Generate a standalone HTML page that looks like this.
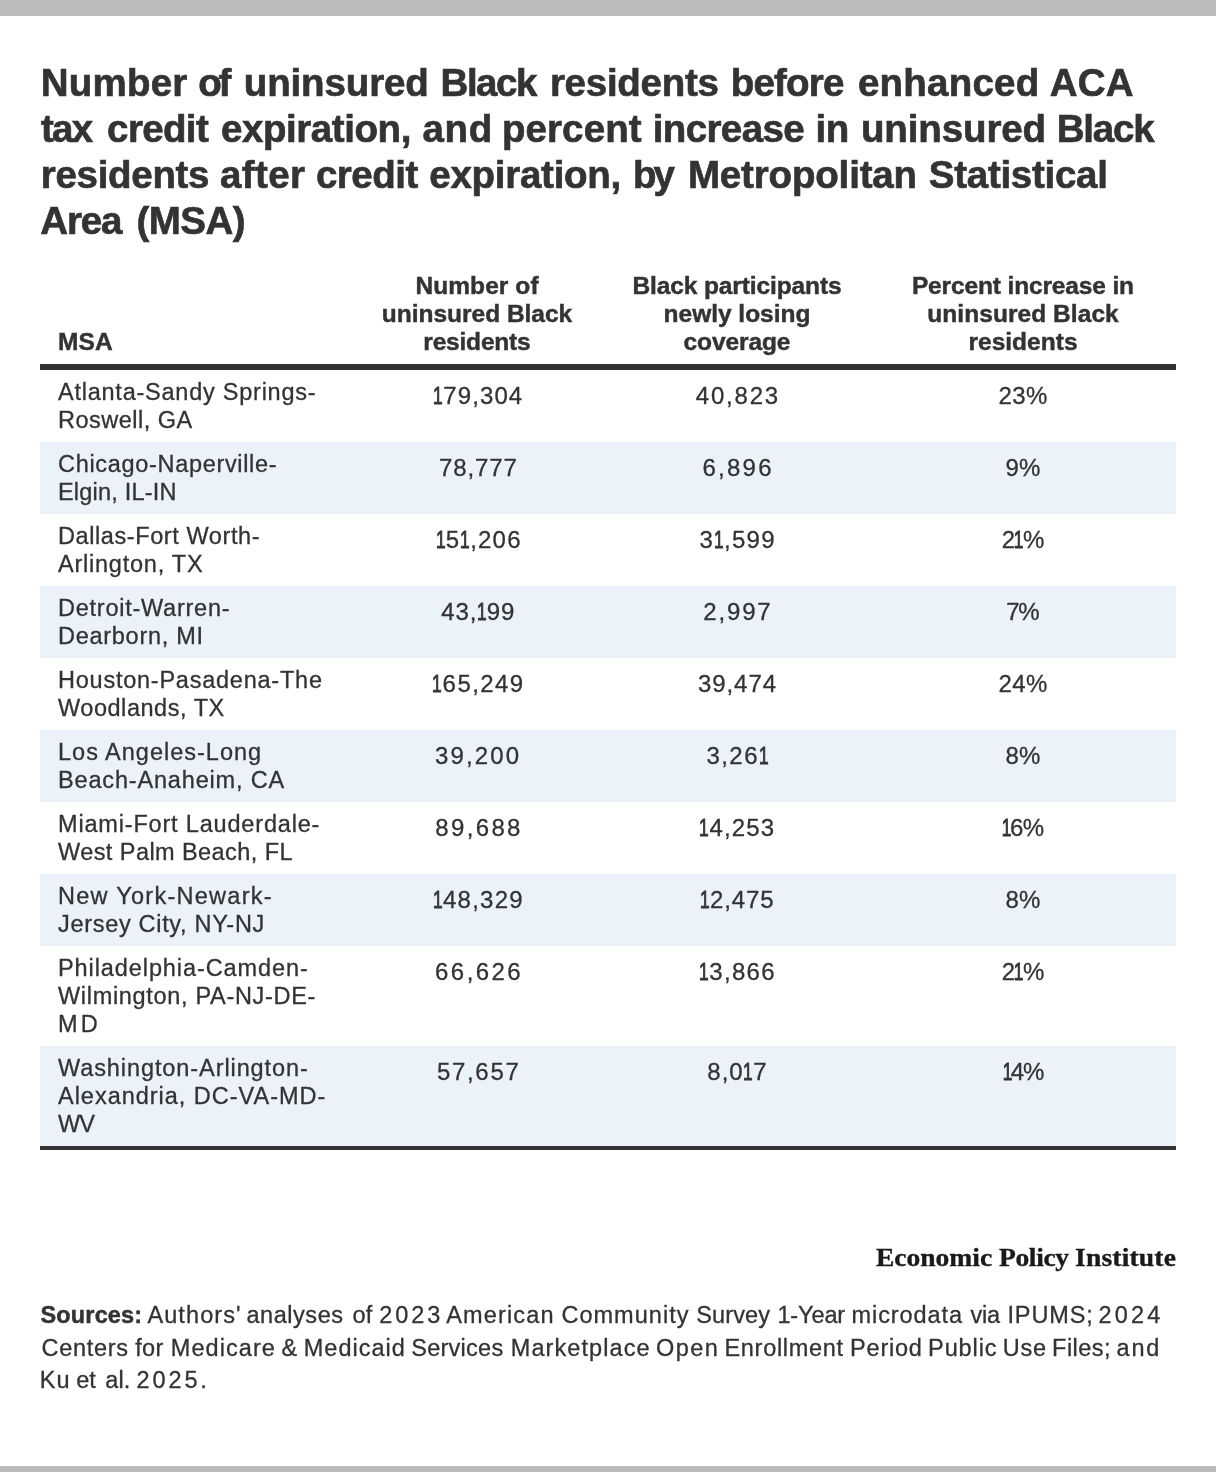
<!DOCTYPE html>
<html lang="en">
<head>
<meta charset="utf-8">
<title>Number of uninsured Black residents before enhanced ACA tax credit expiration</title>
<style>
html,body{margin:0;padding:0;background:#fff;}
body{width:1216px;height:1472px;position:relative;overflow:hidden;font-family:"Liberation Sans",sans-serif;color:#333;}
.bar{position:absolute;left:0;width:1216px;background:#bbb;}
.bar.top{top:0;height:16px;}
.bar.bottom{top:1466px;height:6px;}
.wrap{position:absolute;left:40px;top:0;width:1136px;will-change:transform;}
.l{white-space:nowrap;}
.title{position:absolute;left:0;top:60px;width:1136px;margin:0;font-size:38.5px;line-height:46px;font-weight:bold;color:#333;-webkit-text-stroke:0.65px #333;white-space:nowrap;}
table.data{position:absolute;left:0;top:264px;width:1136px;border-collapse:separate;border-spacing:0;table-layout:fixed;border-bottom:4px solid #333;}
col.c1{width:310px}col.c2{width:254px}col.c3{width:266px}col.c4{width:306px}
thead th{font-size:24.5px;line-height:28px;font-weight:bold;-webkit-text-stroke:0.45px #333;text-align:center;vertical-align:bottom;padding:8px 0 8px 0;border-bottom:6px solid #333;height:84px;white-space:nowrap;}
thead th.h1{text-align:left;padding-left:18px;}
tbody tr{height:72px;}
tbody tr.tall{height:100px;}
tbody tr.alt{background:#ebf2fa;}
tbody th{-webkit-text-stroke:0.3px #333;font-size:23.5px;line-height:28px;font-weight:normal;text-align:left;vertical-align:top;padding:8px 0 0 18px;white-space:nowrap;}
tbody td{-webkit-text-stroke:0.3px #333;font-size:24px;line-height:28px;text-align:center;vertical-align:top;padding:12px 0 0 0;white-space:nowrap;}
.logo{position:absolute;left:0;width:1136px;height:30px;top:1243px;font-family:"Liberation Serif",serif;font-weight:bold;font-size:26px;-webkit-text-stroke:0.35px #1a1a1a;line-height:30px;color:#1a1a1a;white-space:nowrap;}
.source{-webkit-text-stroke:0.3px #333;position:absolute;left:0;top:1299.4px;width:1136px;margin:0;font-size:23.5px;line-height:32.4px;white-space:nowrap;}
i.o,i.o1{font-style:normal;display:inline-block;transform:scaleX(.72);margin:0 -2.4px;-webkit-text-stroke:1px #333;}
.wl{display:block;position:relative;}
.wl .w{position:absolute;top:0;left:0;}
.tl{height:46px;}
.logo .wl{height:30px;}
.sl{height:32.4px;}
.logo .wl .w{transform:scaleX(1.06);transform-origin:0 50%;}
.source strong{-webkit-text-stroke:0.45px #333;}
</style>
</head>
<body>
<div class="bar top"></div>
<div class="wrap">
<h1 class="title"><span class="wl tl"><span id="s0" class="l w" style="left:0.75px;letter-spacing:0.21px;margin-right:-0.21px">Number</span> <span id="s1" class="l w" style="left:158.28px;letter-spacing:-3.4px;margin-right:3.4px">of</span> <span id="s2" class="l w" style="left:203.75px;letter-spacing:-0.12px;margin-right:0.12px">uninsured</span> <span id="s3" class="l w" style="left:400.58px;letter-spacing:-1.5px;margin-right:1.5px">Black</span> <span id="s4" class="l w" style="left:509.92px;letter-spacing:-0.27px;margin-right:0.27px">residents</span> <span id="s5" class="l w" style="left:690.75px;letter-spacing:-0.82px;margin-right:0.82px">before</span> <span id="s6" class="l w" style="left:817.94px;letter-spacing:0.22px;margin-right:-0.22px">enhanced</span> <span id="s7" class="l w" style="left:1009.79px;letter-spacing:0.19px;margin-right:-0.19px">ACA</span></span>
<span class="wl tl"><span id="s8" class="l w" style="left:0.9px;letter-spacing:-1.67px;margin-right:1.67px">tax</span> <span id="s9" class="l w" style="left:67.11px;letter-spacing:-0.64px;margin-right:0.64px">credit</span> <span id="s10" class="l w" style="left:180.96px;letter-spacing:-0.43px;margin-right:0.43px">expiration,</span> <span id="s11" class="l w" style="left:382.4px;letter-spacing:0.76px;margin-right:-0.76px">and</span> <span id="s12" class="l w" style="left:461.92px;letter-spacing:0.1px;margin-right:-0.1px">percent</span> <span id="s13" class="l w" style="left:612.66px;letter-spacing:-0.61px;margin-right:0.61px">increase</span> <span id="s14" class="l w" style="left:775.42px;letter-spacing:-0.32px;margin-right:0.32px">in</span> <span id="s15" class="l w" style="left:820.94px;letter-spacing:-0.12px;margin-right:0.12px">uninsured</span> <span id="s16" class="l w" style="left:1016.66px;letter-spacing:-1.18px;margin-right:1.18px">Black</span></span>
<span class="wl tl"><span id="s17" class="l w" style="left:0.75px;letter-spacing:-0.3px;margin-right:0.3px">residents</span> <span id="s18" class="l w" style="left:179.96px;letter-spacing:0.42px;margin-right:-0.42px">after</span> <span id="s19" class="l w" style="left:275.96px;letter-spacing:-0.51px;margin-right:0.51px">credit</span> <span id="s20" class="l w" style="left:389.28px;letter-spacing:-0.27px;margin-right:0.27px">expiration,</span> <span id="s21" class="l w" style="left:593.09px;letter-spacing:-3.15px;margin-right:3.15px">by</span> <span id="s22" class="l w" style="left:647.92px;letter-spacing:-0.16px;margin-right:0.16px">Metropolitan</span> <span id="s23" class="l w" style="left:888.79px;letter-spacing:-0.27px;margin-right:0.27px">Statistical</span></span>
<span class="wl tl"><span id="s24" class="l w" style="left:0.3px;letter-spacing:-1.18px;margin-right:1.18px">Area</span> <span id="s25" class="l w" style="left:96.62px;letter-spacing:-0.58px;margin-right:0.58px">(MSA)</span></span></h1>
<table class="data">
<colgroup><col class="c1"><col class="c2"><col class="c3"><col class="c4"></colgroup>
<thead>
<tr>
<th scope="col" class="h1"><span id="s26" class="l" style="letter-spacing:0.08px;margin-right:-0.08px">MSA</span></th>
<th scope="col" class="h2"><span id="s27" class="l" style="letter-spacing:0.08px;margin-right:-0.08px">Number of</span><br><span id="s28" class="l" style="letter-spacing:-0.01px;margin-right:0.01px">uninsured Black</span><br><span id="s29" class="l" style="letter-spacing:-0.19px;margin-right:0.19px">residents</span></th>
<th scope="col" class="h3"><span id="s30" class="l" style="letter-spacing:-0.11px;margin-right:0.11px">Black participants</span><br><span id="s31" class="l" style="letter-spacing:-0.02px;margin-right:0.02px">newly losing</span><br><span id="s32" class="l" style="letter-spacing:-0.09px;margin-right:0.09px">coverage</span></th>
<th scope="col" class="h4"><span id="s33" class="l" style="letter-spacing:-0.14px;margin-right:0.14px">Percent increase in</span><br><span id="s34" class="l" style="letter-spacing:0.06px;margin-right:-0.06px">uninsured Black</span><br><span id="s35" class="l" style="letter-spacing:0.02px;margin-right:-0.02px">residents</span></th>
</tr>
</thead>
<tbody>
<tr class="">
<th scope="row"><span id="s36" class="l" style="letter-spacing:0.76px;margin-right:-0.76px">Atlanta-Sandy Springs-</span><br><span id="s37" class="l" style="letter-spacing:0.49px;margin-right:-0.49px">Roswell, GA</span></th>
<td><span id="s38" class="l" style="position:relative;left:0.88px;letter-spacing:1.11px;margin-right:-1.11px"><i class="o1">1</i>79,304</span></td>
<td><span id="s39" class="l" style="letter-spacing:1.79px;margin-right:-1.79px">40,823</span></td>
<td><span id="s40" class="l" style="letter-spacing:0.45px;margin-right:-0.45px">23%</span></td>
</tr>
<tr class="alt">
<th scope="row"><span id="s41" class="l" style="letter-spacing:0.68px;margin-right:-0.68px">Chicago-Naperville-</span><br><span id="s42" class="l" style="letter-spacing:0.2px;margin-right:-0.2px">Elgin, IL-IN</span></th>
<td><span id="s43" class="l" style="position:relative;left:0.88px;letter-spacing:0.89px;margin-right:-0.89px">78,777</span></td>
<td><span id="s44" class="l" style="letter-spacing:2.23px;margin-right:-2.23px">6,896</span></td>
<td><span id="s45" class="l" style="letter-spacing:0.21px;margin-right:-0.21px">9%</span></td>
</tr>
<tr class="">
<th scope="row"><span id="s46" class="l" style="letter-spacing:0.59px;margin-right:-0.59px">Dallas-Fort Worth-</span><br><span id="s47" class="l" style="letter-spacing:0.77px;margin-right:-0.77px">Arlington, TX</span></th>
<td><span id="s48" class="l" style="position:relative;left:1.28px;letter-spacing:1.21px;margin-right:-1.21px"><i class="o1">1</i>5<i class="o">1</i>,206</span></td>
<td><span id="s49" class="l" style="letter-spacing:1.29px;margin-right:-1.29px">3<i class="o">1</i>,599</span></td>
<td><span id="s50" class="l" style="letter-spacing:-0.3px;margin-right:0.3px">2<i class="o">1</i>%</span></td>
</tr>
<tr class="alt">
<th scope="row"><span id="s51" class="l" style="letter-spacing:0.75px;margin-right:-0.75px">Detroit-Warren-</span><br><span id="s52" class="l" style="letter-spacing:0.72px;margin-right:-0.72px">Dearborn, MI</span></th>
<td><span id="s53" class="l" style="position:relative;left:0.88px;letter-spacing:0.89px;margin-right:-0.89px">43,<i class="o">1</i>99</span></td>
<td><span id="s54" class="l" style="letter-spacing:1.82px;margin-right:-1.82px">2,997</span></td>
<td><span id="s55" class="l" style="letter-spacing:-1.28px;margin-right:1.28px">7%</span></td>
</tr>
<tr class="">
<th scope="row"><span id="s56" class="l" style="letter-spacing:0.76px;margin-right:-0.76px">Houston-Pasadena-The</span><br><span id="s57" class="l" style="letter-spacing:0.54px;margin-right:-0.54px">Woodlands, TX</span></th>
<td><span id="s58" class="l" style="position:relative;left:0.88px;letter-spacing:1.42px;margin-right:-1.42px"><i class="o1">1</i>65,249</span></td>
<td><span id="s59" class="l" style="letter-spacing:0.95px;margin-right:-0.95px">39,474</span></td>
<td><span id="s60" class="l" style="letter-spacing:0.45px;margin-right:-0.45px">24%</span></td>
</tr>
<tr class="alt">
<th scope="row"><span id="s61" class="l" style="letter-spacing:1.0px;margin-right:-1.0px">Los Angeles-Long</span><br><span id="s62" class="l" style="letter-spacing:0.83px;margin-right:-0.83px">Beach-Anaheim, CA</span></th>
<td><span id="s63" class="l" style="letter-spacing:2.16px;margin-right:-2.16px">39,200</span></td>
<td><span id="s64" class="l" style="letter-spacing:1.48px;margin-right:-1.48px">3,26<i class="o">1</i></span></td>
<td><span id="s65" class="l" style="letter-spacing:0.21px;margin-right:-0.21px">8%</span></td>
</tr>
<tr class="">
<th scope="row"><span id="s66" class="l" style="letter-spacing:0.82px;margin-right:-0.82px">Miami-Fort Lauderdale-</span><br><span id="s67" class="l" style="letter-spacing:0.43px;margin-right:-0.43px">West Palm Beach, FL</span></th>
<td><span id="s68" class="l" style="position:relative;left:0.88px;letter-spacing:2.36px;margin-right:-2.36px">89,688</span></td>
<td><span id="s69" class="l" style="letter-spacing:1.12px;margin-right:-1.12px"><i class="o1">1</i>4,253</span></td>
<td><span id="s70" class="l" style="letter-spacing:-0.56px;margin-right:0.56px"><i class="o1">1</i>6%</span></td>
</tr>
<tr class="alt">
<th scope="row"><span id="s71" class="l" style="letter-spacing:1.27px;margin-right:-1.27px">New York-Newark-</span><br><span id="s72" class="l" style="letter-spacing:0.69px;margin-right:-0.69px">Jersey City, NY-NJ</span></th>
<td><span id="s73" class="l" style="position:relative;left:0.88px;letter-spacing:1.25px;margin-right:-1.25px"><i class="o1">1</i>48,329</span></td>
<td><span id="s74" class="l" style="letter-spacing:0.87px;margin-right:-0.87px"><i class="o1">1</i>2,475</span></td>
<td><span id="s75" class="l" style="letter-spacing:0.21px;margin-right:-0.21px">8%</span></td>
</tr>
<tr class="tall">
<th scope="row"><span id="s76" class="l" style="letter-spacing:0.91px;margin-right:-0.91px">Philadelphia-Camden-</span><br><span id="s77" class="l" style="letter-spacing:0.68px;margin-right:-0.68px">Wilmington, PA-NJ-DE-</span><br><span id="s78" class="l" style="letter-spacing:3.06px;margin-right:-3.06px">MD</span></th>
<td><span id="s79" class="l" style="position:relative;left:0.88px;letter-spacing:2.46px;margin-right:-2.46px">66,626</span></td>
<td><span id="s80" class="l" style="letter-spacing:1.28px;margin-right:-1.28px"><i class="o1">1</i>3,866</span></td>
<td><span id="s81" class="l" style="letter-spacing:-0.3px;margin-right:0.3px">2<i class="o">1</i>%</span></td>
</tr>
<tr class="alt tall">
<th scope="row"><span id="s82" class="l" style="letter-spacing:0.91px;margin-right:-0.91px">Washington-Arlington-</span><br><span id="s83" class="l" style="letter-spacing:0.98px;margin-right:-0.98px">Alexandria, DC-VA-MD-</span><br><span id="s84" class="l" style="letter-spacing:-0.94px;margin-right:0.94px">WV</span></th>
<td><span id="s85" class="l" style="position:relative;left:0.88px;letter-spacing:1.68px;margin-right:-1.68px">57,657</span></td>
<td><span id="s86" class="l" style="letter-spacing:1.03px;margin-right:-1.03px">8,0<i class="o">1</i>7</span></td>
<td><span id="s87" class="l" style="position:relative;left:0.88px;letter-spacing:-1.28px;margin-right:1.28px"><i class="o1">1</i>4%</span></td>
</tr>
</tbody>
</table>
<div class="logo"><span class="wl"><span id="s88" class="l w" style="left:836.4px;letter-spacing:-0.03px;margin-right:0.03px">Economic</span> <span id="s89" class="l w" style="left:959.18px;letter-spacing:-0.36px;margin-right:0.36px">Policy</span> <span id="s90" class="l w" style="left:1035.2px;letter-spacing:0.16px;margin-right:-0.16px">Institute</span></span></div>
<p class="source"><span class="wl sl"><strong><span id="s91" class="l w" style="left:0.5px;letter-spacing:0.15px;margin-right:-0.15px">Sources:</span></strong> <span id="s92" class="l w" style="left:107.4px;letter-spacing:1.1px;margin-right:-1.1px">Authors'</span> <span id="s93" class="l w" style="left:206.47px;letter-spacing:0.54px;margin-right:-0.54px">analyses</span> <span id="s94" class="l w" style="left:312.4px;letter-spacing:0.26px;margin-right:-0.26px">of</span> <span id="s95" class="l w" style="left:339.3px;letter-spacing:2.92px;margin-right:-2.92px">2023</span> <span id="s96" class="l w" style="left:406.3px;letter-spacing:1.13px;margin-right:-1.13px">American</span> <span id="s97" class="l w" style="left:521.4px;letter-spacing:1.03px;margin-right:-1.03px">Community</span> <span id="s98" class="l w" style="left:656.3px;letter-spacing:0.09px;margin-right:-0.09px">Survey</span> <span id="s99" class="l w" style="left:737.43px;letter-spacing:-0.12px;margin-right:0.12px">1-Year</span> <span id="s100" class="l w" style="left:811.6px;letter-spacing:0.91px;margin-right:-0.91px">microdata</span> <span id="s101" class="l w" style="left:930.4px;letter-spacing:-0.24px;margin-right:0.24px">via</span> <span id="s102" class="l w" style="left:967.43px;letter-spacing:0.9px;margin-right:-0.9px">IPUMS;</span> <span id="s103" class="l w" style="left:1058.6px;letter-spacing:3.14px;margin-right:-3.14px">2024</span></span>
<span class="wl sl"><span id="s104" class="l w" style="left:1.5px;letter-spacing:0.72px;margin-right:-0.72px">Centers</span> <span id="s105" class="l w" style="left:95.3px;letter-spacing:0.26px;margin-right:-0.26px">for</span> <span id="s106" class="l w" style="left:130.77px;letter-spacing:1.06px;margin-right:-1.06px">Medicare</span> <span id="s107" class="l w" style="left:241.6px;letter-spacing:-0.13px;margin-right:0.13px">&amp;</span> <span id="s108" class="l w" style="left:263.79px;letter-spacing:0.99px;margin-right:-0.99px">Medicaid</span> <span id="s109" class="l w" style="left:371.3px;letter-spacing:0.25px;margin-right:-0.25px">Services</span> <span id="s110" class="l w" style="left:470.77px;letter-spacing:1.08px;margin-right:-1.08px">Marketplace</span> <span id="s111" class="l w" style="left:615.96px;letter-spacing:1.43px;margin-right:-1.43px">Open</span> <span id="s112" class="l w" style="left:684.45px;letter-spacing:0.71px;margin-right:-0.71px">Enrollment</span> <span id="s113" class="l w" style="left:810.11px;letter-spacing:0.77px;margin-right:-0.77px">Period</span> <span id="s114" class="l w" style="left:888.11px;letter-spacing:0.88px;margin-right:-0.88px">Public</span> <span id="s115" class="l w" style="left:962.79px;letter-spacing:0.71px;margin-right:-0.71px">Use</span> <span id="s116" class="l w" style="left:1012.11px;letter-spacing:0.44px;margin-right:-0.44px">Files;</span> <span id="s117" class="l w" style="left:1076.6px;letter-spacing:1.82px;margin-right:-1.82px">and</span></span>
<span class="wl sl"><span id="s118" class="l w" style="left:-0.23px;letter-spacing:1.14px;margin-right:-1.14px">Ku</span> <span id="s119" class="l w" style="left:36.13px;letter-spacing:0.08px;margin-right:-0.08px">et</span> <span id="s120" class="l w" style="left:65.3px;letter-spacing:0.07px;margin-right:-0.07px">al.</span> <span id="s121" class="l w" style="left:96.6px;letter-spacing:2.87px;margin-right:-2.87px">2025.</span></span></p>
</div>
<div class="bar bottom"></div>
</body>
</html>
